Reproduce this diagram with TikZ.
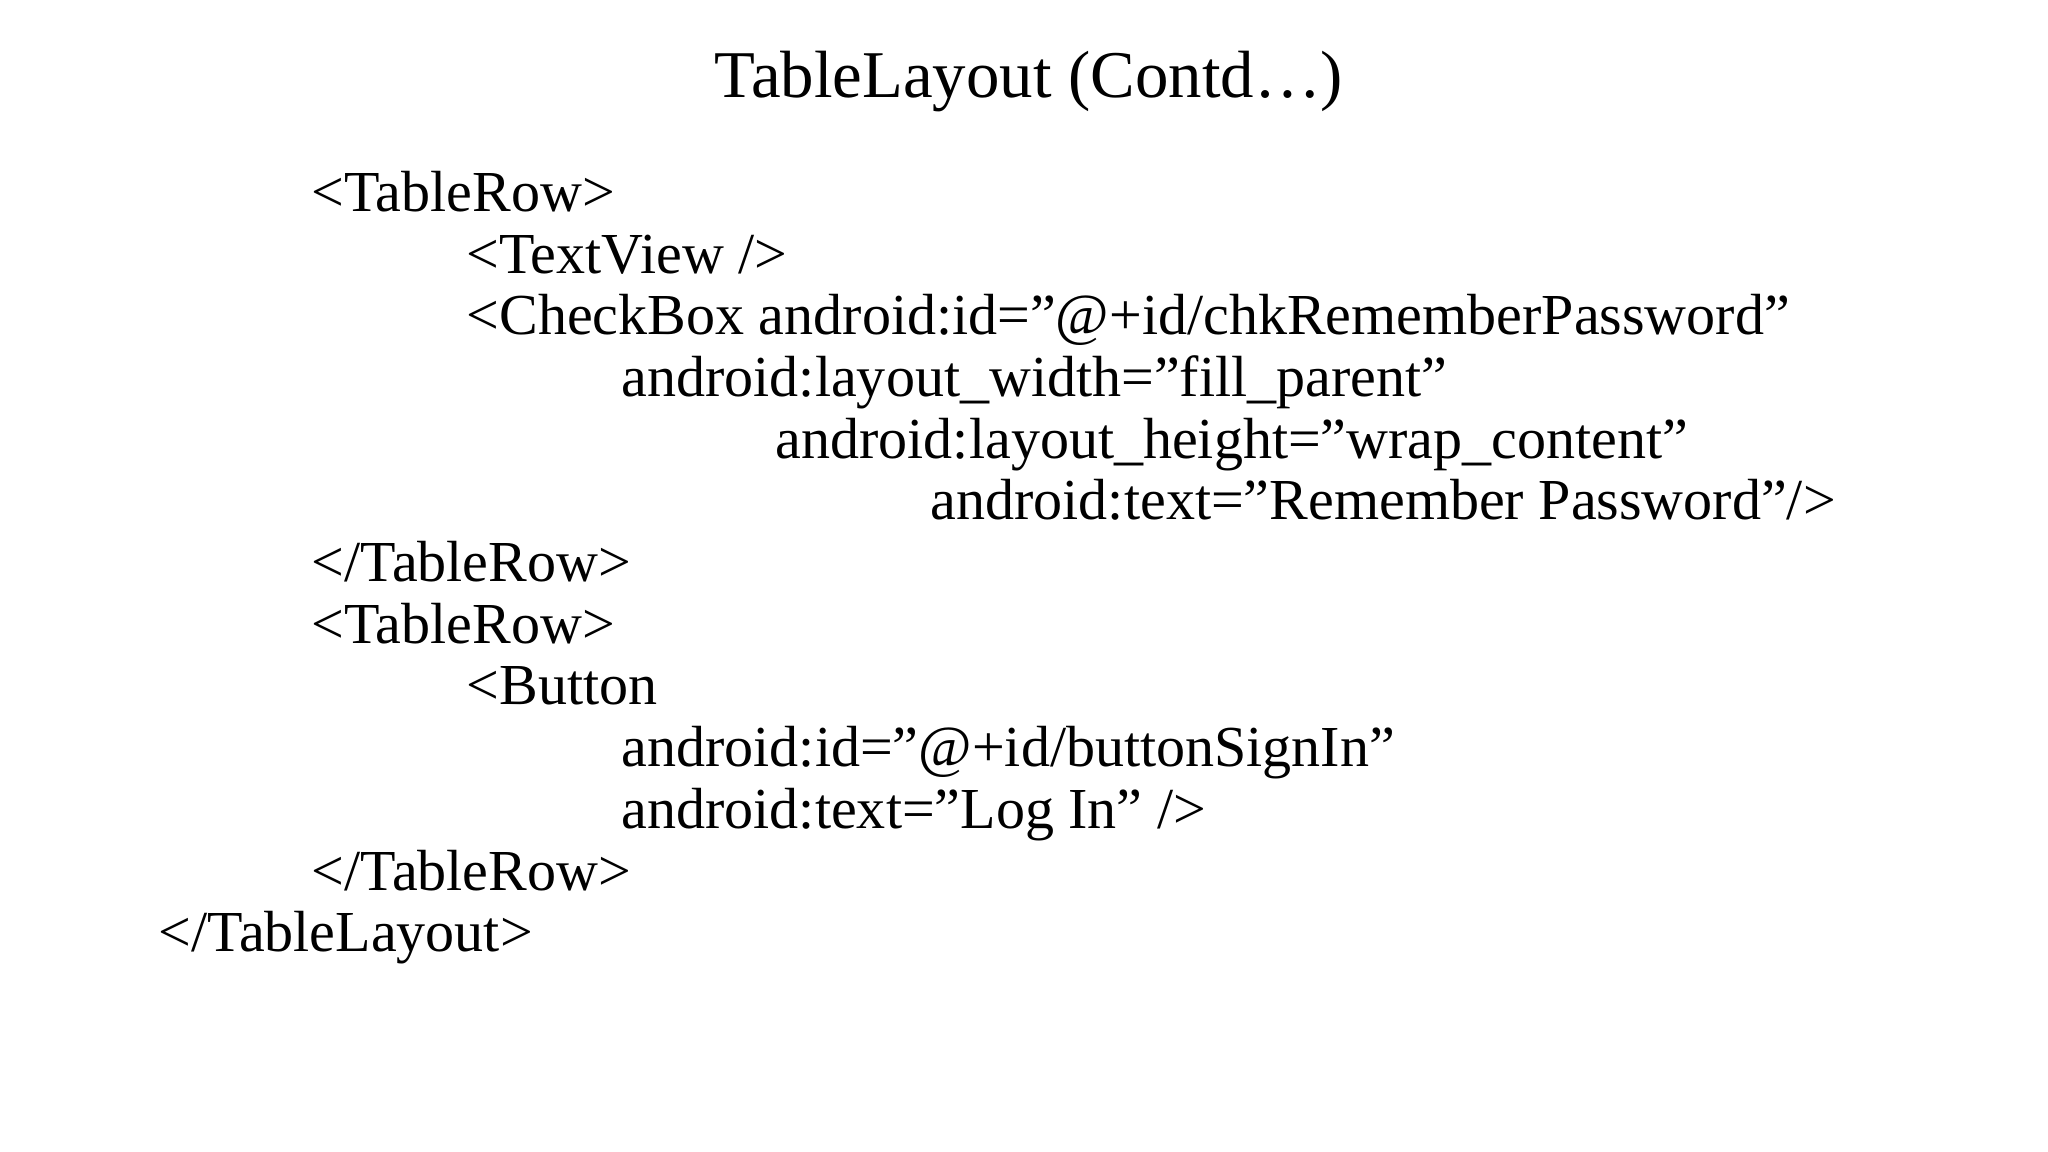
\documentclass[tikz,border=0pt]{standalone}
\usepackage{fontspec}
\setmainfont{Liberation Serif}
\begin{document}
\begin{tikzpicture}[x=0.01cm,y=-0.01cm,
  code/.style={anchor=base west,inner sep=0pt,font=\fontsize{16.5}{18}\selectfont},
  ttl/.style={anchor=base,inner sep=0pt,font=\fontsize{19}{22}\selectfont}]
\useasboundingbox (0,0) rectangle (2048,1152);
\node[ttl] (t) at (1029,98) {TableLayout (Contd\ldots)};
\def\L#1{211.4+61.7*#1}
\node[code] (l0) at (311,{\L0}) {<TableRow>};
\node[code] (l1) at (466,{\L1}) {<TextView />};
\node[code] (l2) at (466,{\L2}) {<CheckBox android:id="@+id/chkRememberPassword"};
\node[code] (l3) at (621,{\L3}) {android:layout\_width="fill\_parent"};
\node[code] (l4) at (775,{\L4}) {android:layout\_height="wrap\_content"};
\node[code] (l5) at (930,{\L5}) {android:text="Remember Password"/>};
\node[code] (l6) at (311,{\L6}) {</TableRow>};
\node[code] (l7) at (311,{\L7}) {<TableRow>};
\node[code] (l8) at (466,{\L8}) {<Button};
\node[code] (l9) at (621,{\L9}) {android:id="@+id/buttonSignIn"};
\node[code] (l10) at (621,{\L{10}}) {android:text="Log In" />};
\node[code] (l11) at (311,{\L{11}}) {</TableRow>};
\node[code] (l12) at (158,{\L{12}}) {</TableLayout>};
\end{tikzpicture}
\end{document}
